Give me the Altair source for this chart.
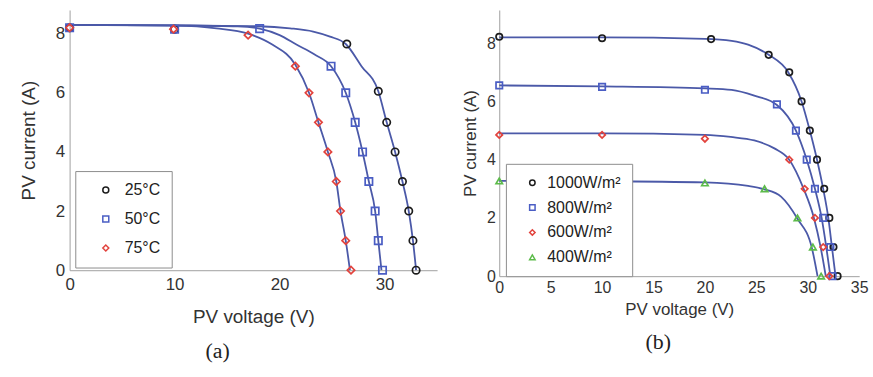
import altair as alt
import pandas as pd

# ---------------- Panel (a): temperature effect ----------------
T_LABELS = ["25°C", "50°C", "75°C"]

# measured points (markers)
T25_V = [0, 10, 26.4, 29.4, 30.2, 31.0, 31.7, 32.3, 32.7, 33.0]
T25_I = [8.2, 8.15, 7.65, 6.05, 5.0, 4.0, 3.0, 2.0, 1.0, 0.0]
T50_V = [0, 10, 18.1, 24.9, 26.3, 27.2, 27.9, 28.5, 29.1, 29.4, 29.8]
T50_I = [8.2, 8.15, 8.17, 6.9, 6.0, 5.0, 4.0, 3.0, 2.0, 1.0, 0.0]
T75_V = [0, 9.9, 17.0, 21.5, 22.8, 23.7, 24.6, 25.4, 25.8, 26.3, 26.8]
T75_I = [8.2, 8.15, 7.95, 6.9, 6.0, 5.0, 4.0, 3.0, 2.0, 1.0, 0.0]

# model curves
C25_V = [0, 10, 18, 21, 23.2, 24.8, 26.3, 27.8, 29.4, 30.2, 31.0, 31.7, 32.3, 32.7, 33.0]
C25_I = [8.3, 8.28, 8.25, 8.18, 8.07, 7.9, 7.65, 6.9, 6.05, 5.0, 4.0, 3.0, 2.0, 1.0, 0.0]
C50_V = [0, 10, 16, 18.1, 20, 21.6, 23.3, 24.9, 26.3, 27.2, 27.9, 28.5, 29.1, 29.4, 29.7]
C50_I = [8.3, 8.28, 8.25, 8.17, 7.95, 7.63, 7.3, 6.9, 6.0, 5.0, 4.0, 3.0, 2.0, 1.0, 0.0]
C75_V = [0, 10, 14, 17, 19.3, 21.5, 22.8, 23.7, 24.6, 25.4, 25.8, 26.3, 26.7]
C75_I = [8.3, 8.27, 8.18, 8.0, 7.63, 6.95, 6.0, 5.0, 4.0, 3.0, 2.0, 1.0, 0.0]

# ---------------- Panel (b): irradiance effect ----------------
G_LABELS = ["1000W/m²", "800W/m²", "600W/m²", "400W/m²"]

G1000_V = [0, 10, 20.6, 26.2, 28.2, 29.4, 30.2, 30.9, 31.6, 32.1, 32.5, 32.9]
G1000_I = [8.22, 8.17, 8.14, 7.6, 7.0, 6.0, 5.0, 4.0, 3.0, 2.0, 1.0, 0.0]
G800_V = [0, 10, 20, 27.0, 28.85, 29.9, 30.7, 31.5, 32.2, 32.4]
G800_I = [6.55, 6.5, 6.4, 5.9, 5.0, 4.0, 3.0, 2.0, 1.0, 0.0]
G600_V = [0, 10, 20, 28.2, 29.7, 30.7, 31.5, 32.1]
G600_I = [4.85, 4.85, 4.72, 4.0, 3.0, 2.0, 1.0, 0.0]
G400_V = [0, 10, 20, 25.8, 29.0, 30.5, 31.3]
G400_I = [3.27, 3.25, 3.2, 3.0, 2.0, 1.0, 0.0]

D1000_V = [0, 10, 20, 22.6, 24.2, 26.2, 28.1, 29.4, 30.2, 30.9, 31.5, 32.0, 32.35, 32.7]
D1000_I = [8.2, 8.2, 8.15, 8.08, 7.95, 7.6, 7.0, 6.0, 5.0, 4.0, 3.0, 2.0, 1.0, 0.0]
D800_V = [0, 10, 20, 22.6, 24.8, 27.0, 28.85, 29.9, 30.7, 31.35, 31.8, 32.2]
D800_I = [6.55, 6.52, 6.45, 6.4, 6.2, 5.88, 5.0, 4.0, 3.0, 2.0, 1.0, 0.0]
D600_V = [0, 10, 20, 22.5, 24.8, 26.8, 28.2, 29.6, 30.6, 31.25, 31.75]
D600_I = [4.9, 4.9, 4.85, 4.78, 4.66, 4.38, 4.0, 3.0, 2.0, 1.0, 0.0]
D400_V = [0, 10, 20, 24.2, 25.8, 27.4, 29.0, 30.4, 30.95]
D400_I = [3.27, 3.26, 3.22, 3.1, 2.98, 2.73, 1.97, 0.97, 0.0]


def frame(pairs, labels):
    rows = []
    for k, (vs, cs) in enumerate(pairs):
        for j, (v, c) in enumerate(zip(vs, cs)):
            rows.append({"V": v, "I": c, "series": labels[k], "order": k * 100 + j})
    return pd.DataFrame(rows)


ptsA = frame([(T25_V, T25_I), (T50_V, T50_I), (T75_V, T75_I)], T_LABELS)
curA = frame([(C25_V, C25_I), (C50_V, C50_I), (C75_V, C75_I)], T_LABELS)
ptsB = frame([(G1000_V, G1000_I), (G800_V, G800_I), (G600_V, G600_I), (G400_V, G400_I)], G_LABELS)
curB = frame([(D1000_V, D1000_I), (D800_V, D800_I), (D600_V, D600_I), (D400_V, D400_I)], G_LABELS)

FONT = "Liberation Sans"
LINE = "#4b59a8"
COLS = ["#1c1c1c", "#4a5dc4", "#e2433d", "#5cbb4a"]
SHAPES = ["circle", "square", "diamond", "triangle-up"]
AX = dict(domainColor="#a0a0a0", domainWidth=1, ticks=False, grid=False, labelFlush=False,
          labelColor="#333333", titleColor="#333333", labelFont=FONT,
          titleFont=FONT, titleFontWeight="normal")


def panel(pts, cur, labels, xdom, xvals, ydom, yvals, w, h, fs_lab, fs_tit,
          xlp, xtp, ylp, ytp, msize, leg, caption, cdx, coff):
    x = alt.X("V:Q", scale=alt.Scale(domain=xdom, nice=False, zero=False),
              axis=alt.Axis(values=xvals, title="PV voltage (V)", labelFontSize=fs_lab,
                            titleFontSize=fs_tit, labelPadding=xlp, titlePadding=xtp, **AX))
    y = alt.Y("I:Q", scale=alt.Scale(domain=ydom, nice=False, zero=False),
              axis=alt.Axis(values=yvals, title="PV current (A)", labelFontSize=fs_lab,
                            titleFontSize=fs_tit, labelPadding=ylp, titlePadding=ytp, **AX))
    n = len(labels)
    lines = alt.Chart(cur).mark_line(interpolate="monotone", color=LINE, strokeWidth=1.8).encode(
        x=x, y=y, detail="series:N", order="order:Q")
    pts_ch = alt.Chart(pts).mark_point(filled=False, strokeWidth=1.7, size=msize, opacity=1).encode(
        x=x, y=y,
        color=alt.Color("series:N", scale=alt.Scale(domain=labels, range=COLS[:n]), legend=leg),
        shape=alt.Shape("series:N", scale=alt.Scale(domain=labels, range=SHAPES[:n]), legend=leg),
        order="order:Q")
    return alt.layer(lines, pts_ch).properties(
        width=w, height=h,
        title=alt.TitleParams(caption, orient="bottom", font="Liberation Serif", fontSize=22,
                              fontWeight="normal", color="#222222", dx=cdx, offset=coff))


legA = alt.Legend(title=None, orient="none", legendX=5.7, legendY=162,
                  direction="vertical", fillColor="white", strokeColor="#8c8c8c", padding=11,
                  labelFont=FONT, labelFontSize=16, labelColor="#222222", symbolSize=36,
                  symbolStrokeWidth=1.5, rowPadding=13.2, symbolOffset=11.7, labelOffset=11)
legB = alt.Legend(title=None, orient="none", legendX=6.7, legendY=154.7,
                  direction="vertical", fillColor="white", strokeColor="#8c8c8c", padding=11,
                  labelFont=FONT, labelFontSize=16, labelColor="#222222", symbolSize=30,
                  symbolStrokeWidth=1.5, rowPadding=9, symbolOffset=7.6, labelOffset=7)

left = panel(ptsA, curA, T_LABELS, [0, 35], [0, 10, 20, 30], [0, 8.8], [0, 2, 4, 6, 8],
             369.6, 261.7, 17, 19, 6, 16, 5, 17, 55, legA, "(a)", -36, 14)
right = panel(ptsB, curB, G_LABELS, [0, 35], [0, 5, 10, 15, 20, 25, 30, 35], [0, 9.14],
              [0, 2, 4, 6, 8], 362, 267.7, 16, 17, 3, 7, 4, 7, 42, legB, "(b)", -21, 14)

chart = alt.hconcat(left, right, spacing=62.1, bounds="flush").resolve_scale(
    color="independent", shape="independent").properties(
    padding={"left": 19, "top": 9, "right": 5, "bottom": 5},
    background="white").configure_view(stroke=None)

chart.save("out.html", embed_options={"renderer": "svg", "actions": False})
